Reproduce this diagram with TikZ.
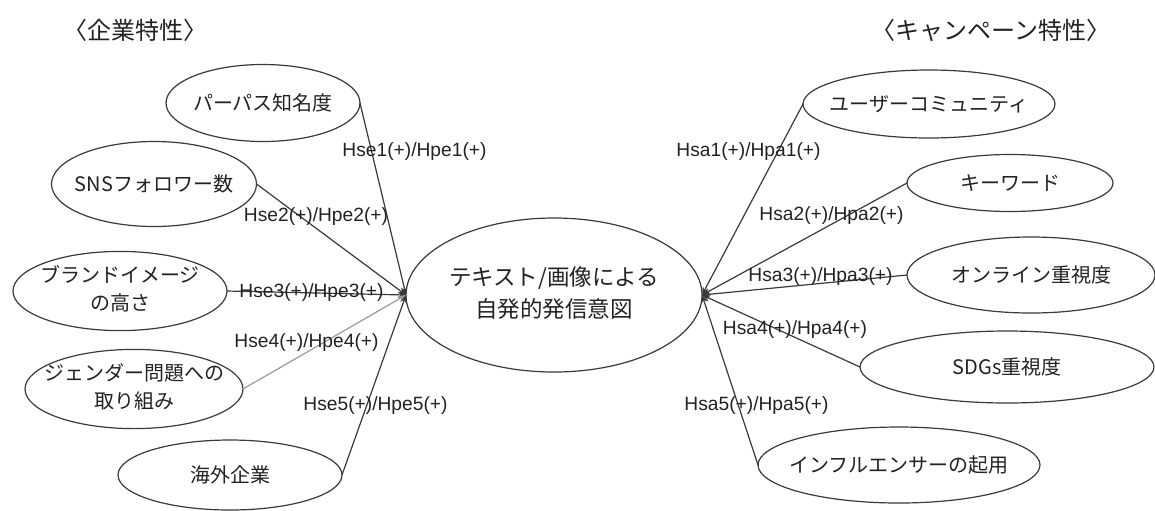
\documentclass[tikz,border=0pt]{standalone}
\usepackage{fontspec}
\setmainfont{Liberation Sans}
\newfontfamily\jp{Noto Sans CJK JP}
\usetikzlibrary{shapes.geometric,arrows.meta}
\definecolor{ink}{HTML}{222222}
\definecolor{edgec}{HTML}{3A3A3A}
\definecolor{lightedge}{HTML}{9A9A9A}
\newcommand{\ctr}[1]{\makebox[0pt]{\begin{tabular}{@{}c@{}}#1\end{tabular}}}
\newcommand{\one}[1]{\makebox[0pt]{#1}}
\tikzset{
  oval/.style={ellipse, draw=edgec, line width=0.6pt, inner sep=0pt, outer sep=0pt,
    font=\jp\fontsize{10pt}{14pt}\selectfont, text=ink},
  hyp/.style={font=\fontsize{9.6pt}{11pt}\selectfont, text=ink, inner sep=0pt},
  link/.style={draw=edgec, line width=0.6pt, -{Stealth[length=4pt,width=3.2pt]}},
  lightlink/.style={link, draw=lightedge},
  headline/.style={font=\jp\fontsize{12pt}{14pt}\selectfont, text=ink, inner sep=0pt}
}
\begin{document}
\begin{tikzpicture}[x=0.5pt,y=-0.5pt]
\useasboundingbox (0,0) rectangle (1155,510);
\fill[white] (0,0) rectangle (1155,510);

% titles
\node[headline] (t1) at (135,30) {〈企業特性〉};
\node[headline] (t2) at (991,30) {〈キャンペーン特性〉};

% center
\node[oval, minimum width=148pt, minimum height=77pt,
  font=\jp\fontsize{11.25pt}{16pt}\selectfont] (c) at (554,295)
  {\ctr{テキスト/画像による\\自発的発信意図}};

% left ellipses
\node[oval, minimum width=97pt, minimum height=38.5pt] (p1) at (263,103) {\one{パーパス知名度}};
\node[oval, minimum width=102.5pt, minimum height=42.5pt] (p2) at (154,184) {\one{SNSフォロワー数}};
\node[oval, minimum width=107pt, minimum height=39pt] (p3) at (120,291) {\ctr{ブランドイメージ\\の高さ}};
\node[oval, minimum width=109pt, minimum height=38pt] (p4) at (134,389) {\ctr{ジェンダー問題への\\取り組み}};
\node[oval, minimum width=112pt, minimum height=35pt] (p5) at (230,475) {\one{海外企業}};

% right ellipses
\node[oval, minimum width=126pt, minimum height=34pt] (q1) at (929,104) {\one{ユーザーコミュニティ}};
\node[oval, minimum width=103pt, minimum height=28.5pt] (q2) at (1010,183) {\one{キーワード}};
\node[oval, minimum width=124pt, minimum height=38pt] (q3) at (1031,275) {\one{オンライン重視度}};
\node[oval, minimum width=147pt, minimum height=36pt] (q4) at (1007,367) {\one{SDGs重視度}};
\node[oval, minimum width=141pt, minimum height=38pt] (q5) at (899,465) {\one{インフルエンサーの起用}};

% connectors
\draw[link] (p1.east) -- (c.west);
\draw[link] (p2.east) -- (c.west);
\draw[link] (p3.east) -- (c.west);
\draw[lightlink] (p4.east) -- (c.west);
\draw[link] (p5.east) -- (c.west);
\draw[link] (q1.west) -- (c.east);
\draw[link] (q2.west) -- (c.east);
\draw[link] (q3.west) -- (c.east);
\draw[link] (q4.west) -- (c.east);
\draw[link] (q5.west) -- (c.east);

% hypothesis labels
\node[hyp] (h1) at (414.5,152) {Hse1(+)/Hpe1(+)};
\node[hyp] (h2) at (316,217) {Hse2(+)/Hpe2(+)};
\node[hyp] (h3) at (311.5,293) {Hse3(+)/Hpe3(+)};
\node[hyp] (h4) at (306.5,343) {Hse4(+)/Hpe4(+)};
\node[hyp] (h5) at (375.5,406) {Hse5(+)/Hpe5(+)};
\node[hyp] (k1) at (748.5,152) {Hsa1(+)/Hpa1(+)};
\node[hyp] (k2) at (831.5,216) {Hsa2(+)/Hpa2(+)};
\node[hyp] (k3) at (820.5,277) {Hsa3(+)/Hpa3(+)};
\node[hyp] (k4) at (795,330) {Hsa4(+)/Hpa4(+)};
\node[hyp] (k5) at (756.5,406) {Hsa5(+)/Hpa5(+)};
\end{tikzpicture}
\end{document}
